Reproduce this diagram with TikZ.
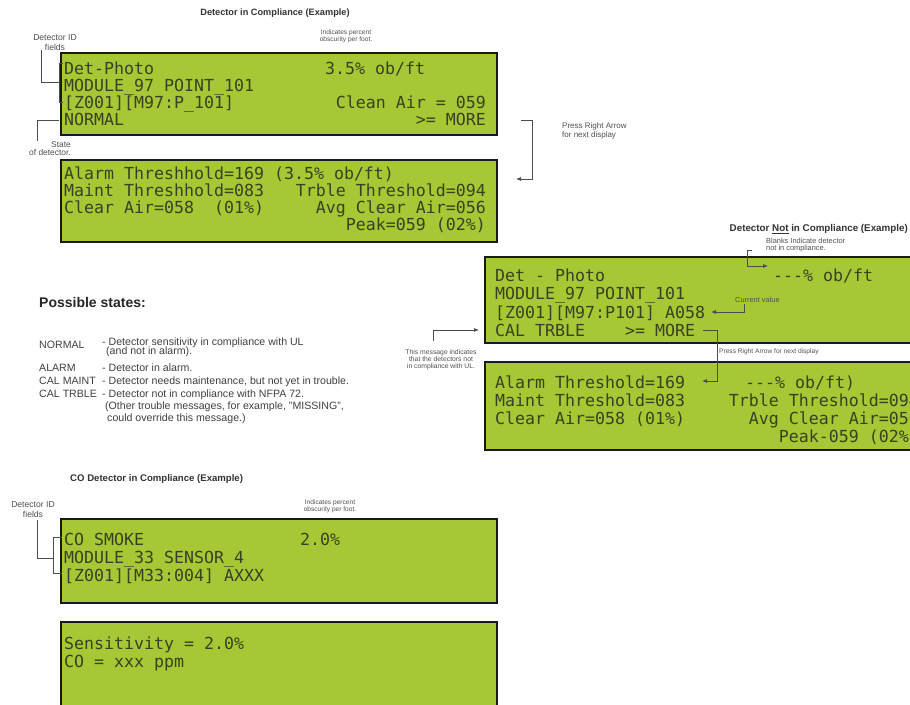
\documentclass[tikz,border=0pt]{standalone}
\usepackage{fontspec}
\setmainfont{Liberation Sans}
\newfontfamily\lcd{DejaVu Sans Mono}
\usetikzlibrary{arrows.meta}
\definecolor{lcdgreen}{RGB}{166,200,52}
\definecolor{lcdtext}{RGB}{58,64,36}
\definecolor{labelgray}{RGB}{80,80,80}
\begin{document}
\begin{tikzpicture}[x=1pt,y=-1pt,
  panel/.style={draw=black!90, line width=2.6pt, fill=lcdgreen},
  lcdl/.style={anchor=base west, inner sep=0pt, font=\lcd\fontsize{16.6}{17}\selectfont, text=lcdtext},
  lcdr/.style={lcdl, anchor=base east},
  lbl/.style={inner sep=0pt, text=labelgray, align=center},
  ttl/.style={inner sep=0pt, text=black!80, font=\bfseries\fontsize{9.2}{10}\selectfont},
  st/.style={anchor=base west, inner sep=0pt, text=black!75, font=\fontsize{10.6}{11}\selectfont},
  conn/.style={draw=black!70, line width=0.7pt},
  arr/.style={conn, -{Latex[length=5pt,width=4pt]}},
]
\useasboundingbox[fill=white] (0,0) rectangle (910,704);

% ---------- Detector in compliance ----------
\node[ttl] (t1) at (275,13) {Detector in Compliance (Example)};
\node[lbl, font=\fontsize{8.6}{10}\selectfont] (idl1) at (55,43) {Detector ID\\fields};
\node[lbl, font=\fontsize{6.6}{7}\selectfont] (ind1) at (346,36.5) {Indicates percent\\obscurity per foot.};

\path[panel] (61,53) rectangle (497,135);
\node[lcdl] (p1a) at (64,74) {Det-Photo};
\node[lcdl] (p1ar) at (325,74) {3.5\% ob/ft};
\node[lcdl] (p1b) at (64,91) {MODULE\_97 POINT\_101};
\node[lcdl] (p1c) at (64,108) {[Z001][M97:P\_101]};
\node[lcdr] (p1cr) at (486,108) {Clean Air = 059};
\node[lcdl] (p1d) at (64,125) {NORMAL};
\node[lcdr] (p1dr) at (486,125) {>= MORE};

\node[lbl, font=\fontsize{8.4}{8.6}\selectfont, anchor=north east, align=right] (stl) at (71,141) {State\\of detector.};

\path[panel] (61,160) rectangle (497,242);
\node[lcdl] (p2a) at (64,179) {Alarm Threshhold=169 (3.5\% ob/ft)};
\node[lcdl] (p2b) at (64,196) {Maint Threshhold=083};
\node[lcdr] (p2br) at (486,196) {Trble Threshold=094};
\node[lcdl] (p2c) at (64,213) {Clear Air=058\ \ (01\%)};
\node[lcdr] (p2cr) at (486,213) {Avg Clear Air=056};
\node[lcdr] (p2dr) at (486,230) {Peak=059 (02\%)};

% brackets
\coordinate (ida) at (41,50);
\coordinate (idb) at (59,82);
\draw[conn] (ida) |- (idb);
\coordinate (brt) at (63,63);
\coordinate (brb) at (63,102);
\draw[conn] (brt) -| (59,102) -- (brb);
\coordinate (sta) at (59,120);
\coordinate (stb) at (37,141);
\draw[conn] (sta) -| (stb);

\node[lbl, font=\fontsize{8}{9.5}\selectfont, anchor=west, align=left] (pra) at (562,131) {Press Right Arrow\\for next display};
\coordinate (pr1) at (521,120);
\coordinate (pr2) at (532,179);
\coordinate (pr3) at (516,179);
\draw[arr] (pr1) -| (pr2) -- (pr3);

% ---------- Detector not in compliance ----------
\node[ttl, font=\bfseries\fontsize{9.8}{10}\selectfont, anchor=east] (t2) at (908,229) {Detector \underline{Not} in Compliance (Example)};
\node[lbl, font=\fontsize{7.4}{7.4}\selectfont, anchor=west, align=left] (blk) at (766,245) {Blanks Indicate detector\\not in compliance.};

\path[panel] (485,257) rectangle (930,343);
\node[lcdl] (p3a) at (495,281) {Det - Photo};
\node[lcdl] (p3ar) at (773,281) {-{}-{}-\% ob/ft};
\node[lcdl] (p3b) at (495,299) {MODULE\_97 POINT\_101};
\node[lcdl] (p3c) at (495,318) {[Z001][M97:P101] A058};
\node[lcdl] (p3d) at (495,336) {CAL TRBLE\ \ \ \ >= MORE};

\path[panel] (485,362) rectangle (930,450);
\node[lcdl] (p4a) at (495,388) {Alarm Threshold=169};
\node[lcdl] (p4ar) at (745,388) {-{}-{}-\% ob/ft)};
\node[lcdl] (p4b) at (495,406) {Maint Threshold=083};
\node[lcdr] (p4br) at (919,406) {Trble Threshold=094};
\node[lcdl] (p4c) at (495,424) {Clear Air=058 (01\%)};
\node[lcdr] (p4cr) at (919,424) {Avg Clear Air=056};
\node[lcdr] (p4dr) at (919,442) {Peak-059 (02\%)};

\coordinate (bl1) at (752,250);
\coordinate (bl2) at (747,266);
\coordinate (bl3) at (768,266);
\draw[arr] (bl1) -| (bl2) -- (bl3);

\node[lbl, font=\fontsize{7.4}{8}\selectfont, anchor=south west] (cur) at (735,303) {Current value};
\coordinate (cv1) at (744,304);
\coordinate (cv2) at (744,312);
\coordinate (cv3) at (711,312);
\draw[arr] (cv1) -- (cv2) -- (cv3);

\coordinate (mo1) at (703,330);
\coordinate (mo2) at (717,381);
\coordinate (mo3) at (702,381);
\draw[arr] (mo1) -| (mo2) -- (mo3);
\node[lbl, font=\fontsize{6.6}{7}\selectfont, anchor=west] (prn) at (719,352) {Press Right Arrow for next display};

\node[lbl, font=\fontsize{6.8}{7}\selectfont] (msg) at (441,360) {This message indicates\\that the detectors not\\in compliance with UL.};
\coordinate (ms1) at (433,341);
\coordinate (ms2) at (479,330);
\draw[arr] (ms1) |- (ms2);

% ---------- Possible states ----------
\node[anchor=base west, inner sep=0pt, text=black!85, font=\bfseries\fontsize{14}{15}\selectfont] (ps) at (39,307) {Possible states:};
\node[st] (s1) at (39,348) {NORMAL};
\node[st] (s1a) at (102,345) {- Detector sensitivity in compliance with UL};
\node[st] (s1b) at (106,354) {(and not in alarm).};
\node[st] (s2) at (39,371) {ALARM};
\node[st] (s2a) at (102,371) {- Detector in alarm.};
\node[st] (s3) at (39,384) {CAL MAINT};
\node[st] (s3a) at (102,384) {- Detector needs maintenance, but not yet in trouble.};
\node[st] (s4) at (39,397) {CAL TRBLE};
\node[st] (s4a) at (102,397) {- Detector not in compliance with NFPA 72.};
\node[st] (s4b) at (105,409) {(Other trouble messages, for example, "MISSING",};
\node[st] (s4c) at (107,421) {could override this message.)};

% ---------- CO detector ----------
\node[ttl, font=\bfseries\fontsize{9.6}{10}\selectfont, anchor=west] (t3) at (70,479) {CO Detector in Compliance (Example)};
\node[lbl, font=\fontsize{8.6}{10}\selectfont] (idl2) at (33,510) {Detector ID\\fields};
\node[lbl, font=\fontsize{6.6}{7}\selectfont] (ind2) at (330,506) {Indicates percent\\obscurity per foot.};

\path[panel] (61,519) rectangle (497,603);
\node[lcdl] (p5a) at (64,545) {CO SMOKE};
\node[lcdl] (p5ar) at (300,545) {2.0\%};
\node[lcdl] (p5b) at (64,563) {MODULE\_33 SENSOR\_4};
\node[lcdl] (p5c) at (64,581) {[Z001][M33:004] AXXX};

\coordinate (ic1) at (37,520);
\coordinate (ic2) at (53,558);
\draw[conn] (ic1) |- (ic2);
\coordinate (ib1) at (62,537);
\coordinate (ib2) at (62,573);
\draw[conn] (ib1) -| (53,573) -- (ib2);

\path[panel] (61,622) rectangle (497,720);
\node[lcdl] (p6a) at (64,649) {Sensitivity = 2.0\%};
\node[lcdl] (p6b) at (64,667) {CO = xxx ppm};
\end{tikzpicture}
\end{document}
